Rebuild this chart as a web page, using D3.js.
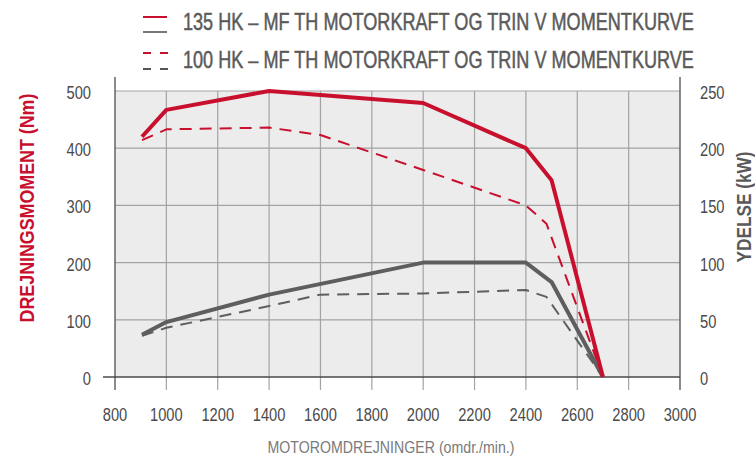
<!DOCTYPE html>
<html>
<head>
<meta charset="utf-8">
<script src="https://cdn.jsdelivr.net/npm/d3@7"></script>
<style>
  body { margin: 0; background: #fff; }
  text { font-family: "Liberation Sans", Arial, sans-serif; }
</style>
</head>
<body>
<div id="chart"></div>
<script>
var width = 755, height = 456
var red = "#c8102e", grey = "#5e5e5e"

// data
var rpm135 = [905, 1000, 1400, 2000, 2400, 2500, 2700]
var torque135 = [420, 467, 500, 479, 400, 344, 0]
var power135 = [37, 48, 72, 100, 100, 83, 0]
var rpm100 = [905, 1000, 1400, 1600, 2000, 2400, 2480, 2700]
var torque100 = [414, 433, 436, 423, 362, 300, 268, 0]
var power100 = [36, 43, 62, 72, 73, 76, 70, 0]
var xTicks = [800, 1000, 1200, 1400, 1600, 1800, 2000, 2200, 2400, 2600, 2800, 3000]
var torqueTicks = [0, 100, 200, 300, 400, 500]
var powerTicks = [0, 50, 100, 150, 200, 250]
var legendLabels = ["135 HK \u2013 MF TH MOTORKRAFT OG TRIN V MOMENTKURVE",
                    "100 HK \u2013 MF TH MOTORKRAFT OG TRIN V MOMENTKURVE"]

var svg = d3.select("#chart").append("svg").attr("width", width).attr("height", height)

var x = d3.scaleLinear().domain([800, 3000]).range([115, 680])
var yL = d3.scaleLinear().domain([0, 500]).range([377, 91])
var yR = d3.scaleLinear().domain([0, 250]).range([377, 91])

// squeeze a text horizontally so it takes the given width
function fit(sel, tx, ty, w, rot) {
  var natural = sel.node().getComputedTextLength()
  var k = w / natural
  sel.attr("transform", "translate(" + tx + "," + ty + ")" + (rot ? " rotate(-90)" : "") + " scale(" + k + ",1)")
}

// plot background
svg.append("rect")
   .attr("x", x(800)).attr("y", yL(500))
   .attr("width", x(3000) - x(800)).attr("height", yL(0) - yL(500))
   .attr("fill", "#ececec")

// grid
svg.selectAll(".hgrid").data(torqueTicks.slice(1)).enter().append("line")
   .attr("x1", x(800)).attr("x2", x(3000))
   .attr("y1", function(d){ return yL(d) }).attr("y2", function(d){ return yL(d) })
   .style("stroke", "#a3a3a3").style("stroke-width", 1.2)
svg.selectAll(".vgrid").data(xTicks.slice(1, -1)).enter().append("line")
   .attr("x1", function(d){ return x(d) }).attr("x2", function(d){ return x(d) })
   .attr("y1", yL(500)).attr("y2", 390)
   .style("stroke", "#a3a3a3").style("stroke-width", 1.2)

// axes frame
svg.append("line").attr("x1", x(800)).attr("x2", x(800)).attr("y1", 77).attr("y2", 390)
   .style("stroke", "#5a5a5a").style("stroke-width", 1.4)
svg.append("line").attr("x1", x(3000)).attr("x2", x(3000)).attr("y1", 77).attr("y2", 390)
   .style("stroke", "#5a5a5a").style("stroke-width", 1.4)
svg.append("line").attr("x1", 103).attr("x2", x(3000)).attr("y1", yL(0)).attr("y2", yL(0))
   .style("stroke", "#4a4a4a").style("stroke-width", 1.4)

// tick labels (condensed by a horizontal squeeze)
var sq = 0.84
function tickText(data, fx, fy, anchor) {
  svg.selectAll(null).data(data).enter().append("text")
     .attr("transform", function(d){ return "translate(" + fx(d) + "," + fy(d) + ") scale(" + sq + ",1)" })
     .attr("text-anchor", anchor).style("font-size", "17.5px").style("fill", "#4a4a4a")
     .text(function(d){ return d })
}
tickText(xTicks, function(d){ return x(d) }, function(){ return 421 }, "middle")
tickText(torqueTicks, function(){ return 91 }, function(d){ return yL(d) + 8 }, "end")
tickText(powerTicks, function(){ return 700 }, function(d){ return yR(d) + 8 }, "start")

// axis titles
var xt = svg.append("text").attr("text-anchor", "middle")
   .style("font-size", "16px").style("fill", "#7a7a7a").text("MOTOROMDREJNINGER (omdr./min.)")
fit(xt, 391, 453, 247, false)
var ylt = svg.append("text").attr("text-anchor", "middle")
   .style("font-size", "21px").style("font-weight", "bold").style("fill", red)
   .text("DREJNINGSMOMENT (Nm)")
fit(ylt, 34, 208, 229, true)
var yrt = svg.append("text").attr("text-anchor", "middle")
   .style("font-size", "20px").style("font-weight", "bold").style("fill", "#5a5a5a")
   .text("YDELSE (kW)")
fit(yrt, 751, 207, 111, true)

// series
function drawLine(xs, ys, scale, color, w, dash) {
  var line = d3.line()
      .x(function(d, i){ return x(xs[i]) })
      .y(function(d){ return scale(d) })
  svg.append("path").datum(ys)
     .attr("d", line)
     .attr("fill", "none")
     .attr("stroke", color)
     .attr("stroke-width", w)
     .attr("stroke-linejoin", "round")
     .attr("stroke-dasharray", dash)
}
drawLine(rpm100, power100, yR, grey, 2, "12,8")
drawLine(rpm100, torque100, yL, red, 2, "12,8")
drawLine(rpm135, power135, yR, grey, 4, null)
drawLine(rpm135, torque135, yL, red, 4, null)

// legend
var legend = svg.append("g")
legend.append("line").attr("x1", 143).attr("x2", 167).attr("y1", 17).attr("y2", 17)
      .style("stroke", red).style("stroke-width", 2)
legend.append("line").attr("x1", 143).attr("x2", 167).attr("y1", 32).attr("y2", 32)
      .style("stroke", "#777").style("stroke-width", 2)
legend.append("line").attr("x1", 143).attr("x2", 168).attr("y1", 53).attr("y2", 53)
      .style("stroke", red).style("stroke-width", 2).style("stroke-dasharray", "8,9")
legend.append("line").attr("x1", 143).attr("x2", 168).attr("y1", 69).attr("y2", 69)
      .style("stroke", "#555").style("stroke-width", 2).style("stroke-dasharray", "8,9")
legendLabels.forEach(function(d, i) {
  var t = legend.append("text")
      .style("font-size", "23px").style("fill", "#5a5a5a")
      .style("stroke", "#5a5a5a").style("stroke-width", 0.5)
      .text(d)
  fit(t, 183, 30 + i * 38, 511, false)
})
</script>
</body>
</html>
